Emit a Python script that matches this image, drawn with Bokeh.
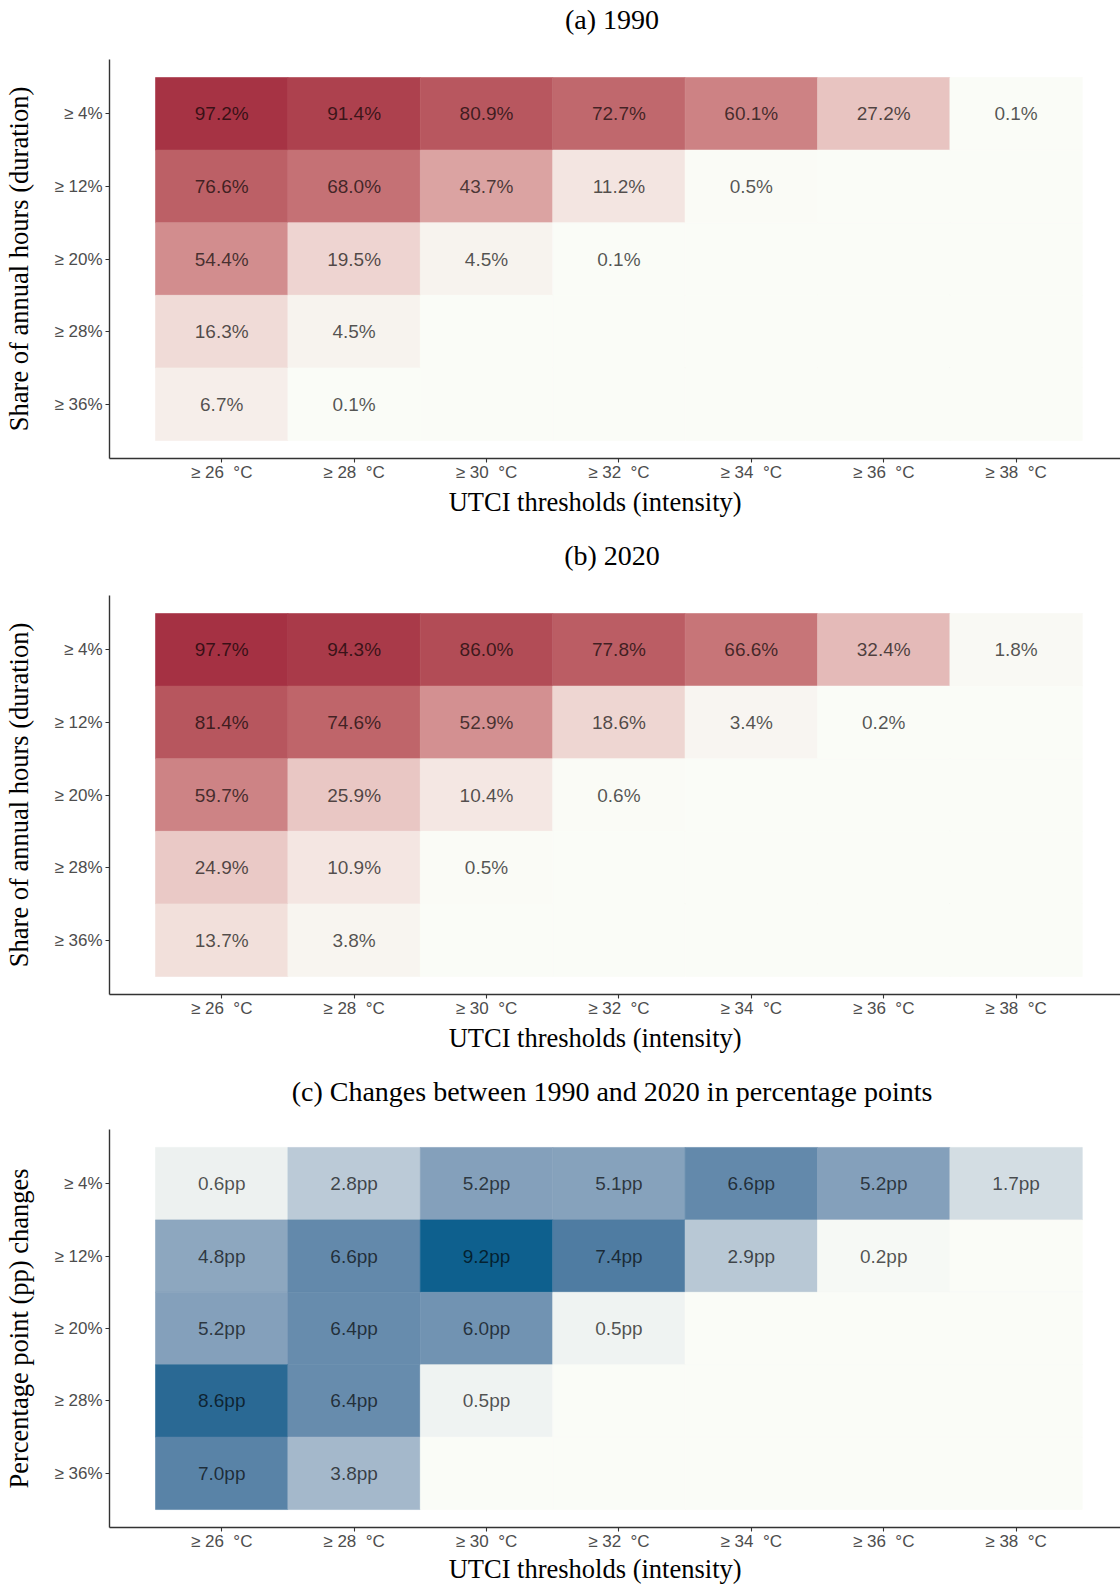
import numpy as np
from bokeh.plotting import figure
from bokeh.models import ColumnDataSource, LinearColorMapper, Range1d, FixedTicker, Div
from bokeh.transform import transform
from bokeh.layouts import column
from bokeh.core.properties import value
from bokeh.embed import file_html
from bokeh.resources import INLINE

# ---------------- data ----------------
x_labels = ["≥ 26\u00a0 °C", "≥ 28\u00a0 °C", "≥ 30\u00a0 °C", "≥ 32\u00a0 °C",
            "≥ 34\u00a0 °C", "≥ 36\u00a0 °C", "≥ 38\u00a0 °C"]
y_labels = ["≥ 4%", "≥ 12%", "≥ 20%", "≥ 28%", "≥ 36%"]

N = None
share_1990 = [
    [97.2, 91.4, 80.9, 72.7, 60.1, 27.2, 0.1],
    [76.6, 68.0, 43.7, 11.2, 0.5, N, N],
    [54.4, 19.5, 4.5, 0.1, N, N, N],
    [16.3, 4.5, N, N, N, N, N],
    [6.7, 0.1, N, N, N, N, N],
]
share_2020 = [
    [97.7, 94.3, 86.0, 77.8, 66.6, 32.4, 1.8],
    [81.4, 74.6, 52.9, 18.6, 3.4, 0.2, N],
    [59.7, 25.9, 10.4, 0.6, N, N, N],
    [24.9, 10.9, 0.5, N, N, N, N],
    [13.7, 3.8, N, N, N, N, N],
]
change_pp = [
    [0.6, 2.8, 5.2, 5.1, 6.6, 5.2, 1.7],
    [4.8, 6.6, 9.2, 7.4, 2.9, 0.2, N],
    [5.2, 6.4, 6.0, 0.5, N, N, N],
    [8.6, 6.4, 0.5, N, N, N, N],
    [7.0, 3.8, N, N, N, N, N],
]

# ---------------- colour scales (Lab interpolation) ----------------
_M = np.array([[0.4124564, 0.3575761, 0.1804375],
               [0.2126729, 0.7151522, 0.0721750],
               [0.0193339, 0.1191920, 0.9503041]])
_W = np.array([0.95047, 1.0, 1.08883])
_d = 6 / 29


def _to_lab(hx):
    c = np.array([int(hx[i:i + 2], 16) for i in (1, 3, 5)]) / 255.0
    lin = np.where(c <= 0.04045, c / 12.92, ((c + 0.055) / 1.055) ** 2.4)
    xyz = _M @ lin / _W
    f = np.where(xyz > _d ** 3, np.cbrt(xyz), xyz / (3 * _d ** 2) + 4 / 29)
    return np.array([116 * f[1] - 16, 500 * (f[0] - f[1]), 200 * (f[1] - f[2])])


def _from_lab(lab):
    fy = (lab[0] + 16) / 116
    f = np.array([fy + lab[1] / 500, fy, fy - lab[2] / 200])
    xyz = np.where(f > _d, f ** 3, 3 * _d ** 2 * (f - 4 / 29)) * _W
    lin = np.linalg.solve(_M, xyz)
    lin = np.clip(lin, 0, 1)
    c = np.where(lin <= 0.0031308, 12.92 * lin, 1.055 * lin ** (1 / 2.4) - 0.055)
    c = np.clip(np.round(c * 255), 0, 255).astype(int)
    return "#%02x%02x%02x" % tuple(c)


def lab_palette(lo, hi, n=256):
    a, b = _to_lab(lo), _to_lab(hi)
    return [_from_lab(a + (b - a) * t) for t in np.linspace(0, 1, n)]


LOW = "#fafcf7"
red_pal = lab_palette(LOW, "#a32c40")
blue_pal = lab_palette(LOW, "#0e608e")

# layout (pixels)
PAGE_W = 1120
TITLE_H = 40
FRAME_L, FRAME_H = 109, 399
COL_PX = 132.4
PAD_Y = 0.248
XR = (-0.5 - 46 / COL_PX, -0.5 + (PAGE_W - 155) / COL_PX)
YR = (4.5 + PAD_Y, -0.5 - PAD_Y)


def title_div(text):
    html = ('<div style="margin:0 0 0 104px;width:1016px;height:%dpx;line-height:%dpx;'
            'text-align:center;white-space:nowrap;font-family:\'Liberation Serif\';'
            'font-size:28px;color:#000000;">%s</div>' % (TITLE_H, TITLE_H, text))
    return Div(text=html, width=PAGE_W, height=TITLE_H, margin=(0, 0, 0, 0))


def panel(vals, suffix, palette, lo, hi, ylabel, top, bottom, label_standoff):
    xs, ys, vs, txs, tys, tl = [], [], [], [], [], []
    for j, row in enumerate(vals):
        for i, v in enumerate(row):
            xs.append(i)
            ys.append(j)
            vs.append(np.nan if v is None else v)
            if v is not None:
                txs.append(i)
                tys.append(j)
                tl.append(f"{v:.1f}{suffix}")
    mapper = LinearColorMapper(palette=palette, low=lo, high=hi, nan_color=LOW)
    p = figure(width=PAGE_W, height=top + FRAME_H + bottom, output_backend="svg",
               toolbar_location=None, x_range=Range1d(*XR), y_range=Range1d(*YR),
               min_border_left=FRAME_L, min_border_right=0, min_border_top=top,
               min_border_bottom=bottom, margin=(0, 0, 0, 0))
    src = ColumnDataSource(dict(x=xs, y=ys, v=vs))
    p.rect("x", "y", width=1, height=1, source=src,
           fill_color=transform("v", mapper), line_color=transform("v", mapper),
           line_width=0.6)
    tsrc = ColumnDataSource(dict(x=txs, y=tys, t=tl))
    p.text("x", "y", text="t", source=tsrc, text_align="center", text_baseline="middle",
           text_font=value("Liberation Sans"), text_font_size="19px",
           text_color="black", text_alpha=0.68)

    p.grid.visible = False
    p.outline_line_color = None

    for ax in (p.xaxis[0], p.yaxis[0]):
        ax.axis_line_color = "#333333"
        ax.axis_line_width = 1.4
        ax.major_tick_line_color = "#333333"
        ax.major_tick_line_width = 1.1
        ax.major_tick_in = 0
        ax.major_tick_out = 4
        ax.minor_tick_line_color = None
        ax.major_label_text_font = "Liberation Sans"
        ax.major_label_text_font_size = "17px"
        ax.major_label_text_color = "#4d4d4d"
        ax.axis_label_text_font = "Liberation Serif"
        ax.axis_label_text_font_size = "26.5px"
        ax.axis_label_text_font_style = "normal"
        ax.axis_label_text_color = "black"

    p.xaxis.ticker = FixedTicker(ticks=list(range(len(x_labels))))
    p.xaxis.major_label_overrides = {i: s for i, s in enumerate(x_labels)}
    p.xaxis.major_label_standoff = 0
    p.xaxis.axis_label = "UTCI thresholds (intensity)" + "\u00a0" * 6
    p.xaxis.axis_label_standoff = label_standoff

    p.yaxis.ticker = FixedTicker(ticks=list(range(len(y_labels))))
    p.yaxis.major_label_overrides = {i: s for i, s in enumerate(y_labels)}
    p.yaxis.major_label_standoff = 3
    p.yaxis.axis_label = ylabel
    p.yaxis.axis_label_standoff = 17
    return p


ta = title_div("(a) 1990")
pa = panel(share_1990, "%", red_pal, 0, 100, "Share of annual hours (duration)", 19, 78, 2)
tb = title_div("(b) 2020")
pb = panel(share_2020, "%", red_pal, 0, 100, "Share of annual hours (duration)", 19, 78, 2)
tc = title_div("(c) Changes between 1990 and 2020 in percentage points")
pc = panel(change_pp, "pp", blue_pal, 0, 9.2, "Percentage point (pp) changes", 17, 58, 0)

layout = column(ta, pa, tb, pb, tc, pc, spacing=0)
open("out.html", "w").write(file_html(layout, INLINE))
